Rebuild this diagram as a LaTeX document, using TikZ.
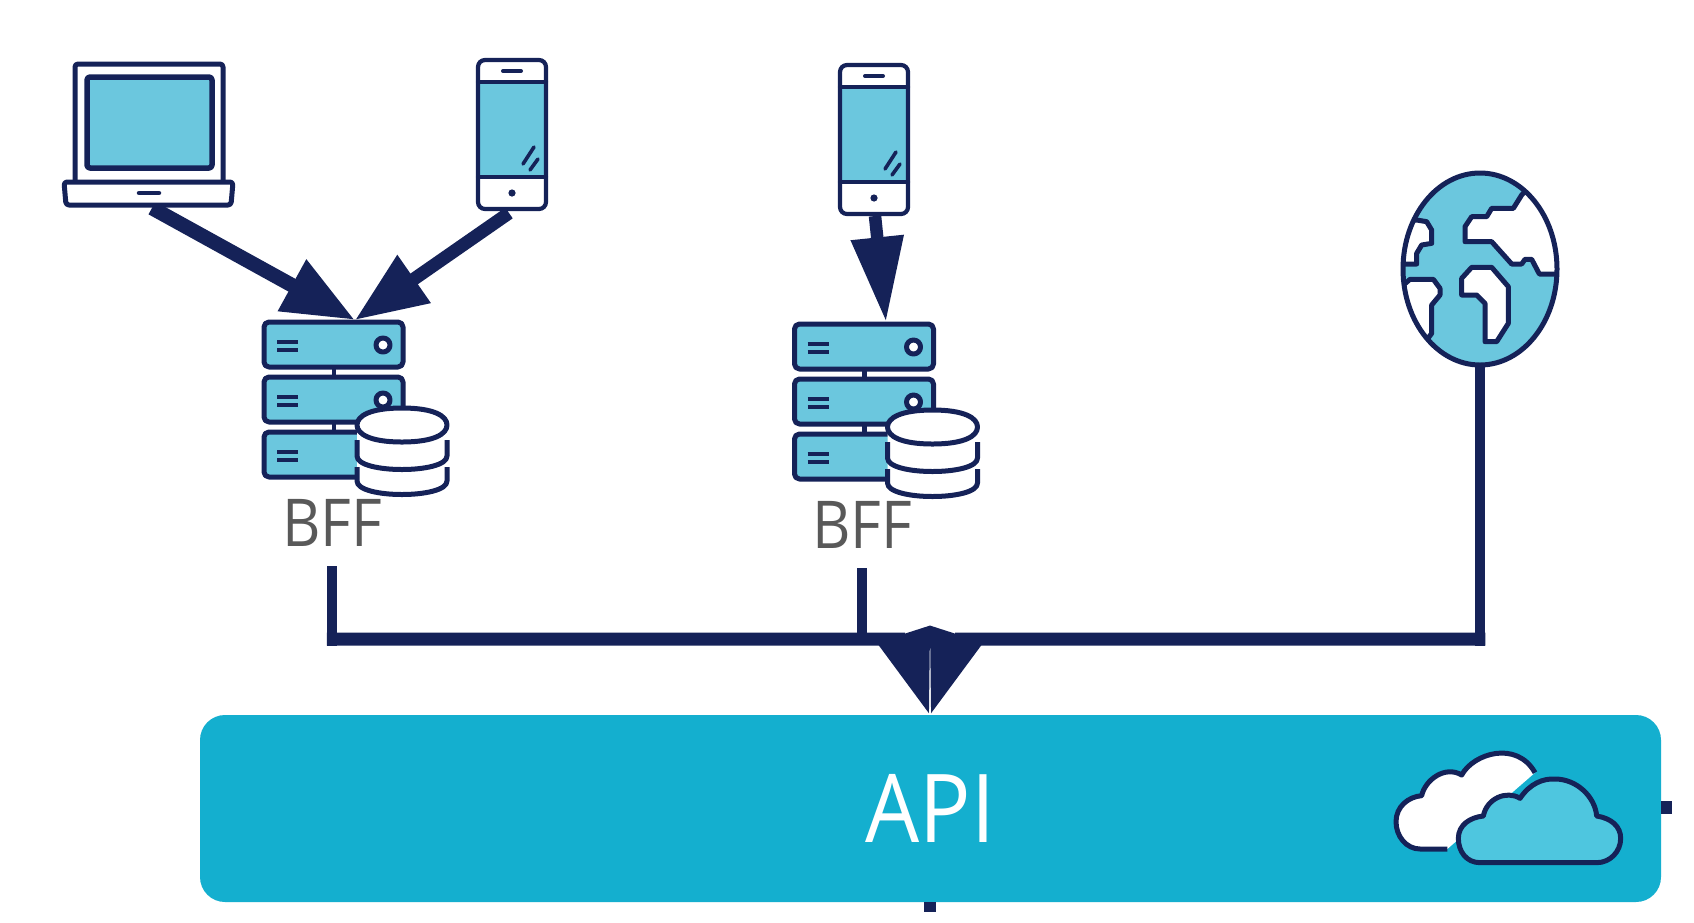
\documentclass[tikz,border=0pt]{standalone}
\usepackage{fontspec}
\usetikzlibrary{arrows.meta}
\newfontfamily\lblfont[FakeStretch=0.9]{Open Sans}
\definecolor{navy}{HTML}{152258}
\definecolor{lblue}{HTML}{6BC7DE}
\definecolor{apiblue}{HTML}{14AFCF}
\definecolor{cloudblue}{HTML}{4EC6DF}
\definecolor{lblgray}{HTML}{595959}
\tikzset{
  icon/.style={draw=none,inner sep=0pt,outer sep=0pt},
  ln/.style={draw=navy,line width=#1,line join=round,line cap=round},
  ln/.default=4pt,
  flow/.style={draw=navy,line width=14.5pt,line join=round,-{Triangle[length=72pt,width=55pt,fill=navy]}},
  flowlong/.style={draw=navy,line width=12.5pt,line join=round,-{Triangle[length=85pt,width=50pt,fill=navy]}},
  bus/.style={draw=navy,line width=13pt,line join=miter,-{Triangle[length=85pt,width=52pt,fill=navy]}},
  drop/.style={draw=navy,line width=10.5pt},
  stub/.style={draw=navy,line width=12.5pt}
}
% icons, origin = top-left corner
\newcommand{\phoneicon}[2]{%
\begin{scope}[shift={(#1,#2)}]
  \fill[white,rounded corners=7pt] (0,0) rectangle (68,149);
  \fill[lblue] (0,22) rectangle (68,117);
  \draw[ln=4.2pt,rounded corners=7pt] (0,0) rectangle (68,149);
  \draw[ln=4.2pt] (0,22) -- (68,22) (0,117) -- (68,117);
  \draw[ln=4pt] (25,11) -- (43,11);
  \draw[ln=3.6pt] (45,104) -- (56,87) (52,110) -- (60,99);
  \fill[navy] (34,133) circle (3.6pt);
\end{scope}}
\newcommand{\servericon}[2]{%
\begin{scope}[shift={(#1,#2)}]
  \draw[ln=4.5pt] (70,46) -- (70,110);
  \foreach \y in {0,55,110}{
    \draw[ln=5pt,fill=lblue,rounded corners=5pt] (0,\y) rectangle (139,\y+45);
    \draw[ln=4pt,line cap=butt] (13,\y+19.5) -- (34,\y+19.5) (13,\y+28) -- (34,\y+28);
  }
  \draw[ln=5pt,fill=white] (119,23) circle (7pt);
  \draw[ln=5pt,fill=white] (119,78) circle (7pt);
  % database
  \fill[white] (93,103) -- (93,155) .. controls (93,178) and (183,178) .. (183,155) -- (183,103) -- cycle;
  \draw[ln=5pt,line cap=butt] (93,118) -- (93,134) .. controls (93,152) and (183,152) .. (183,134) -- (183,118);
  \draw[ln=5pt,line cap=butt] (93,145) -- (93,159) .. controls (93,177) and (183,177) .. (183,159) -- (183,145);
  \draw[ln=5pt,fill=white] (138,86) .. controls (170,86) and (183,94) .. (183,103) .. controls (183,112) and (170,120) .. (138,120) .. controls (106,120) and (93,112) .. (93,103) .. controls (93,94) and (106,86) .. (138,86) -- cycle;
\end{scope}}
\begin{document}
\begin{tikzpicture}[x=1pt,y=-1pt]
\useasboundingbox (0,0) rectangle (1694,922);
\fill[white] (0,0) rectangle (1694,922);

% anchors / boxes
\node[icon,minimum width=169pt,minimum height=141pt] (laptop) at (148.5,134.5) {};
\node[icon,minimum width=68pt,minimum height=149pt] (phoneA) at (512,134.5) {};
\node[icon,minimum width=68pt,minimum height=149pt] (phoneB) at (874,139.5) {};
\node[icon,minimum width=154pt,minimum height=192pt] (globe) at (1480,269) {};
\coordinate (srvA) at (355,320);
\coordinate (srvB) at (886,322);
\node[icon,fill=apiblue,rounded corners=25pt,minimum width=1461pt,minimum height=187pt,text=white,font=\lblfont\fontsize{95}{95}\selectfont] (api) at (930.5,808.5) {API};
\node[icon,text=lblgray,font=\lblfont\fontsize{66}{66}\selectfont,minimum height=87pt] (bffA) at (332,522.5) {BFF};
\node[icon,text=lblgray,font=\lblfont\fontsize{66}{66}\selectfont,minimum height=87pt] (bffB) at (862,524.5) {BFF};
\coordinate (apiL) at (929.5,715);
\coordinate (apiR) at (930.5,715);
\coordinate (stubR) at (1672,807.5);
\coordinate (stubB) at (930,912);

% connectors
\draw[flow] ([shift={(3.5pt,-3pt)}]laptop.south) -- (srvA);
\draw[flow,line width=13pt] ([shift={(-3pt,-4pt)}]phoneA.south) -- (srvA);
\draw[flowlong] ([shift={(1pt,-2pt)}]phoneB.south) -- (srvB);
\draw[drop] (bffA.south) -- (bffA.south |- 0,645.5);
\draw[bus] ([xshift=-5.25pt]bffA.south |- 0,639) -- (905,639) -- (apiL);
\draw[drop] (bffB.south) -- (bffB.south |- 0,639);
\draw[drop] (globe.south) -- (globe.south |- 0,645.5);
\draw[bus] ([xshift=5.25pt]globe.south |- 0,639) -- (955,639) -- (apiR);
\draw[stub] (api.east |- stubR) -- (stubR);
\draw[stub] (stubB |- api.south) -- (stubB);

% laptop
\begin{scope}[shift={(64,64)}]
  \draw[ln=5pt,fill=white,rounded corners=3pt] (11,118) -- (11,0) -- (159,0) -- (159,118);
  \draw[ln=5.5pt,fill=lblue,rounded corners=3pt] (23,13) rectangle (148,104);
  \draw[ln=5pt,fill=white,rounded corners=3pt] (0,118) -- (169,118) -- (167,141) -- (2,141) -- cycle;
  \draw[ln=4.5pt] (75,129) -- (95,129);
\end{scope}
\phoneicon{478}{60}
\phoneicon{840}{65}
\servericon{264}{322}
\servericon{794.5}{324}

% globe
\begin{scope}
  \fill[lblue] (1480,269) ellipse [x radius=77pt,y radius=96pt];
  \begin{scope}
    \clip (1480,269) ellipse [x radius=77pt,y radius=96pt];
    \begin{scope}[shift={(1380,160)},scale=1/3]
      \path[ln=5pt,fill=white] (470,60) -- (425,105) -- (400,145) -- (335,145) -- (320,170) -- (275,170) -- (255,200) -- (255,245) -- (335,245) -- (395,312) -- (425,312) -- (435,298) -- (455,298) -- (478,342) -- (620,342) -- (620,60) -- cycle;
      \path[ln=5pt,fill=white] (40,180) -- (110,180) -- (140,185) -- (155,210) -- (155,250) -- (125,255) -- (110,280) -- (110,312) -- (40,312) -- cycle;
      \path[ln=5pt,fill=white] (40,385) -- (70,375) -- (90,358) -- (160,358) -- (180,385) -- (180,405) -- (155,435) -- (155,520) -- (140,540) -- (40,540) -- cycle;
      \path[ln=5pt,fill=white] (245,355) -- (275,322) -- (335,322) -- (385,380) -- (385,490) -- (350,545) -- (315,545) -- (315,430) -- (290,405) -- (245,405) -- cycle;
    \end{scope}
  \end{scope}
  \draw[ln=5pt] (1480,269) ellipse [x radius=77pt,y radius=96pt];
\end{scope}

% clouds
\begin{scope}[shift={(1370,730)},scale=1/3]
  \fill[white] (232,357) -- (150,357) .. controls (110,357) and (78,320) .. (78,275) .. controls (78,230) and (115,200) .. (155,197) .. controls (165,150) and (225,105) .. (275,135) .. controls (310,70) and (440,30) .. (495,128) -- cycle;
  \draw[draw=navy,line width=5pt,line join=round] (232,357) -- (150,357) .. controls (110,357) and (78,320) .. (78,275) .. controls (78,230) and (115,200) .. (155,197) .. controls (165,150) and (225,105) .. (275,135) .. controls (310,70) and (440,30) .. (495,128);
  \draw[draw=navy,line width=5pt,line join=round,fill=cloudblue] (330,398) .. controls (290,398) and (265,365) .. (265,325) .. controls (265,285) and (300,262) .. (340,258) .. controls (350,205) and (410,180) .. (450,205) .. controls (480,160) and (520,145) .. (555,147) .. controls (620,147) and (675,200) .. (680,258) .. controls (725,265) and (752,290) .. (752,325) .. controls (752,365) and (720,398) .. (680,398) -- cycle;
\end{scope}
\end{tikzpicture}
\end{document}
